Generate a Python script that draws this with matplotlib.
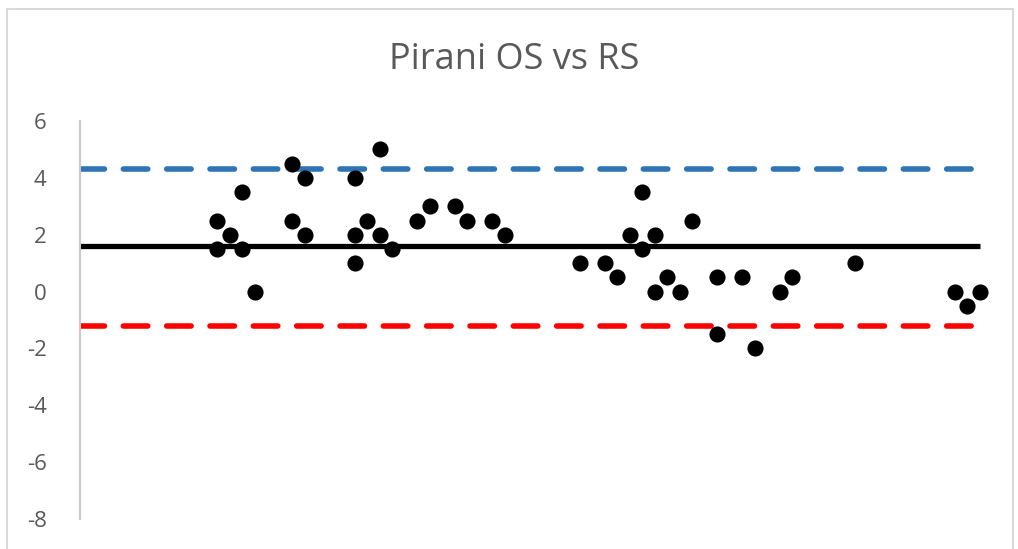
import matplotlib
matplotlib.use("Agg")
import matplotlib.pyplot as plt
from matplotlib.patches import Rectangle

# Data
x_vals = [11, 11, 12, 13, 13, 14, 17, 17, 18, 18, 22, 22, 22, 23, 24, 24, 25,
          27, 28, 30, 31, 33, 34, 40, 42, 43, 44, 45, 45, 46, 46, 47, 48, 49,
          51, 51, 53, 54, 56, 57, 62, 70, 71, 72]
y_vals = [2.5, 1.5, 2, 3.5, 1.5, 0, 4.5, 2.5, 4, 2, 4, 2, 1, 2.5, 5, 2, 1.5,
          2.5, 3, 3, 2.5, 2.5, 2, 1, 1, 0.5, 2, 3.5, 1.5, 2, 0, 0.5, 0, 2.5,
          0.5, -1.5, 0.5, -2, 0, 0.5, 1, 0, -0.5, 0]
mean_diff = 1.6
upper_loa = 4.3
lower_loa = -1.2
line_x = [0, 72]
y_ticks = [-8, -6, -4, -2, 0, 2, 4, 6]
title = "Pirani OS vs RS"

plt.rcParams['font.family'] = ['Open Sans', 'DejaVu Sans']

fig = plt.figure(figsize=(10.18, 5.49), dpi=100)
fig.patch.set_facecolor('white')
# outer chart border
fig.patches.append(Rectangle((7/1018, -0.01), (1013-7)/1018, 1 - 9/549 + 0.01,
                             transform=fig.transFigure, fill=False,
                             edgecolor='#D9D9D9', linewidth=1.5))

ax = fig.add_axes([80/1018, 1 - 519/549, (982-80)/1018, (519-121)/549])
ax.set_xlim(0, 72.2)
ax.set_ylim(-8, 6)

ax.plot(line_x, [upper_loa, upper_loa], color='#2E75B6', linewidth=4,
        dashes=(4.4, 3.4), dash_capstyle='round')
ax.plot(line_x, [lower_loa, lower_loa], color='#FF0000', linewidth=4,
        dashes=(4.4, 3.4), dash_capstyle='round')
ax.plot(line_x, [mean_diff, mean_diff], color='black', linewidth=3.8,
        solid_capstyle='butt')
ax.scatter(x_vals, y_vals, s=135, color='black', zorder=5, clip_on=False,
           linewidths=0)

for s in ['top', 'right', 'bottom']:
    ax.spines[s].set_visible(False)
ax.spines['left'].set_color('#C8C8C8')
ax.spines['left'].set_linewidth(1.5)

ax.set_xticks([])
ax.set_yticks(y_ticks)
ax.set_yticklabels([str(t) for t in y_ticks])
ax.tick_params(axis='y', length=0, labelsize=16, labelcolor='#595959', pad=24)

fig.text(514/1018, 1 - 60/549, title, ha='center', va='center',
         fontsize=26, color='#595959')

fig.savefig('out.png', dpi=100)
